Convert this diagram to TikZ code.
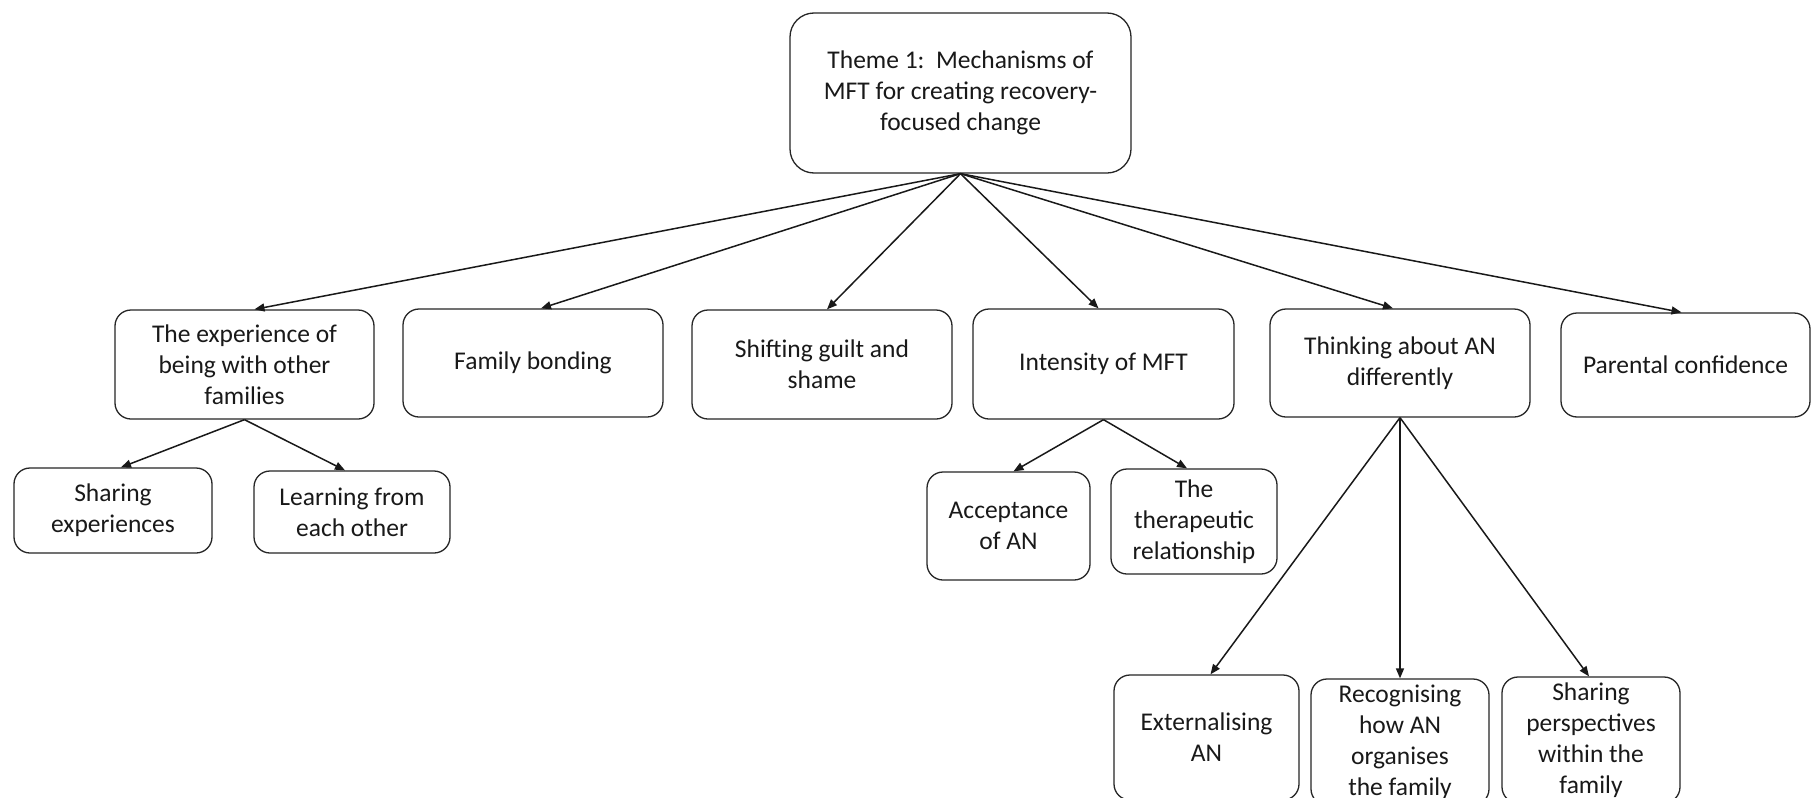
\documentclass[tikz,border=0pt]{standalone}
\usepackage{fontspec}
\setmainfont{Carlito}
\usetikzlibrary{arrows.meta}
\begin{document}
\begin{tikzpicture}[x=1pt,y=-1pt,
  box/.style={draw=black!85, line width=1.3pt, rounded corners=16pt, align=center,
    inner sep=0pt, font=\fontsize{25.5}{31}\selectfont, text=black!90},
  conn/.style={line width=1.5pt, draw=black!90, -{Triangle[length=10pt,width=8pt]}}]
\fill[white] (0,0) rectangle (1813,798);
\useasboundingbox (0,0) rectangle (1813,798);
\begin{scope}
\clip (0,0) rectangle (1813,798);
\node[box, rounded corners=24pt, minimum width=341pt, minimum height=160pt] (top) at (960.5,93) {Theme 1:\ \ Mechanisms of\\MFT for creating recovery-\\focused change};
\node[box, minimum width=259pt, minimum height=109pt] (exp) at (244.5,364.5) {The experience of\\being with other\\families};
\node[box, minimum width=260pt, minimum height=108pt] (fam) at (533,363) {Family bonding};
\node[box, minimum width=260pt, minimum height=109pt] (shift) at (822,364.5) {Shifting guilt and\\shame};
\node[box, minimum width=261pt, minimum height=110pt] (inten) at (1103.5,364) {Intensity of MFT};
\node[box, minimum width=260pt, minimum height=108pt] (think) at (1400,363) {Thinking about AN\\differently};
\node[box, minimum width=249pt, minimum height=104pt] (parent) at (1685.5,365) {Parental confidence};
\node[box, minimum width=198pt, minimum height=85pt] (shexp) at (113,510.5) {Sharing\\experiences};
\node[box, minimum width=196pt, minimum height=82pt] (learn) at (352,512) {Learning from\\each other};
\node[box, minimum width=163pt, minimum height=108pt] (accept) at (1008.5,526) {Acceptance\\of AN};
\node[box, minimum width=166pt, minimum height=105pt] (thera) at (1194,521.5) {The\\therapeutic\\relationship};
\node[box, minimum width=185pt, minimum height=125pt] (ext) at (1206.5,737.5) {Externalising\\AN};
\node[box, minimum width=178pt, minimum height=126pt] (recog) at (1400,742) {Recognising\\how AN\\organises\\the family};
\node[box, minimum width=178pt, minimum height=126pt] (shpers) at (1591,740) {Sharing\\perspectives\\within the\\family};
\end{scope}
\foreach \c/\dx in {exp/10,fam/8,shift/5,inten/-5,think/-7,parent/-4}
  \draw[conn] (top.south) -- ([xshift=\dx pt]\c.north);
\draw[conn] (exp.south) -- ([xshift=8pt]shexp.north);
\draw[conn] (exp.south) -- ([xshift=-7pt]learn.north);
\draw[conn] (inten.south) -- ([xshift=5pt]accept.north);
\draw[conn] (inten.south) -- ([xshift=-7pt]thera.north);
\draw[conn] (think.south) -- ([xshift=4pt]ext.north);
\draw[conn] (think.south) -- (recog.north);
\draw[conn] (think.south) -- ([xshift=-2pt]shpers.north);
\end{tikzpicture}
\end{document}
